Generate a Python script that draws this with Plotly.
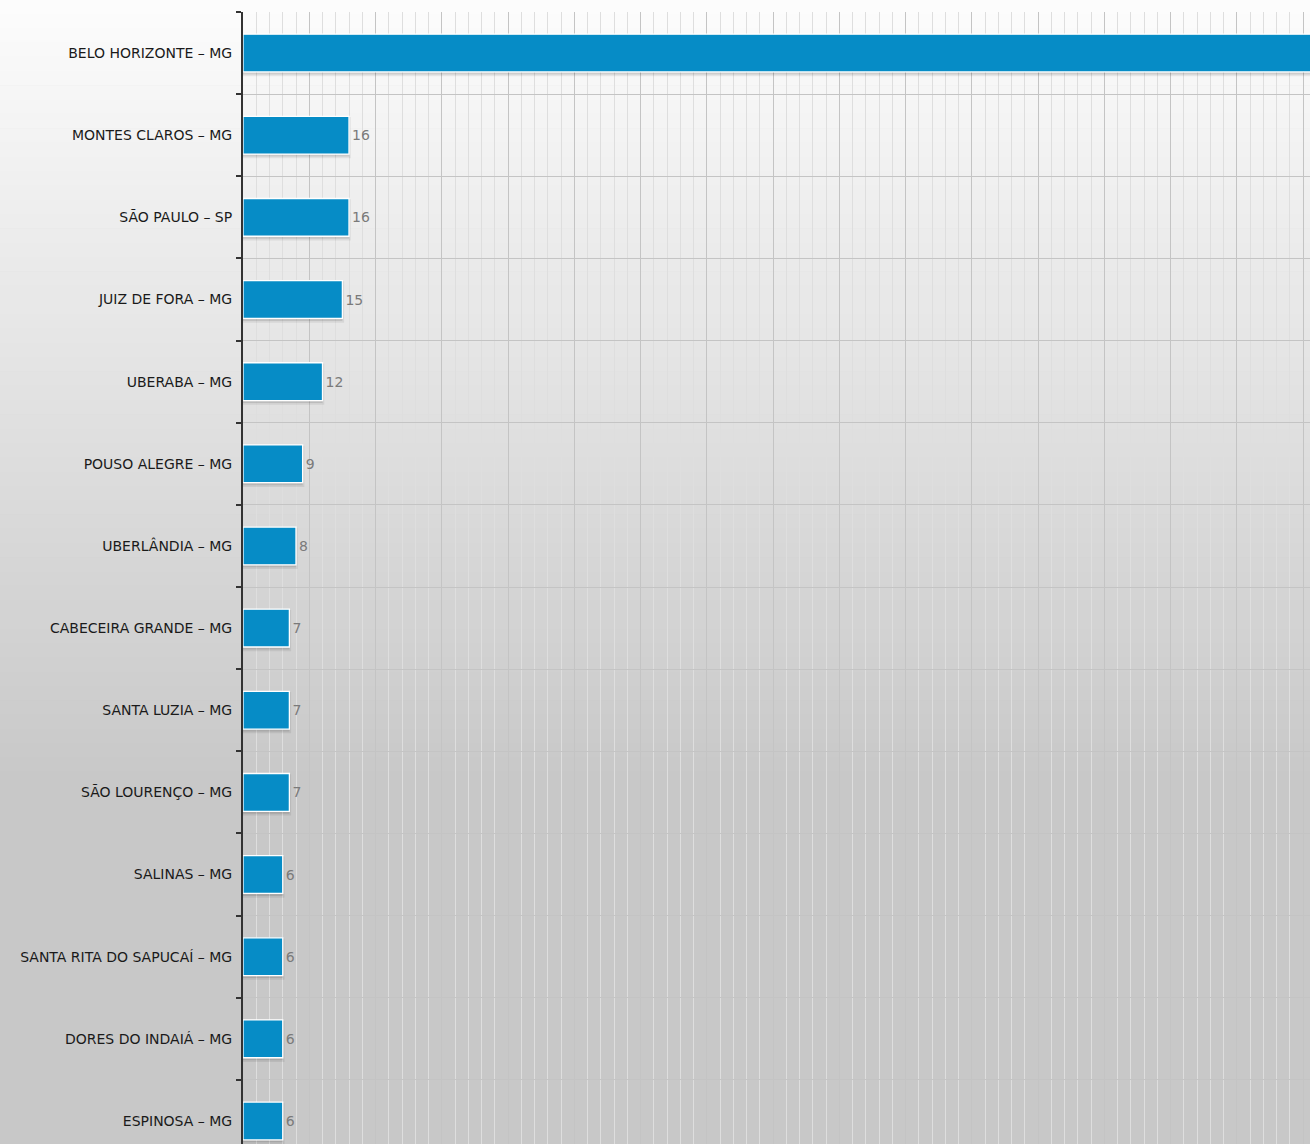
import plotly.graph_objects as go

cities = [
    "BELO HORIZONTE – MG", "MONTES CLAROS – MG", "SÃO PAULO – SP", "JUIZ DE FORA – MG",
    "UBERABA – MG", "POUSO ALEGRE – MG", "UBERLÂNDIA – MG", "CABECEIRA GRANDE – MG",
    "SANTA LUZIA – MG", "SÃO LOURENÇO – MG", "SALINAS – MG", "SANTA RITA DO SAPUCAÍ – MG",
    "DORES DO INDAIÁ – MG", "ESPINOSA – MG",
]
counts = [175, 16, 16, 15, 12, 9, 8, 7, 7, 7, 6, 6, 6, 6]
labels = [str(v) for v in counts]
labels[0] = ""  # label of first bar lies outside the visible area

W, H = 1310, 1144
ML, MT = 243, 12
PW, PH = W - ML, H - MT
BW = 0.46

fig = go.Figure()

# soft drop shadow under bars
fig.add_trace(go.Bar(
    y=cities, x=counts, orientation="h",
    width=BW, offset=-BW / 2 + 0.03,
    marker=dict(color="rgba(0,0,0,0.10)", line=dict(color="rgba(0,0,0,0.07)", width=3.5)),
    hoverinfo="skip", cliponaxis=True,
))

fig.add_trace(go.Bar(
    y=cities, x=counts, orientation="h",
    width=BW,
    marker=dict(color="#068cc6", line=dict(color="#ffffff", width=1.3)),
    text=labels, textposition="outside",
    textfont=dict(family="DejaVu Sans", size=14, color="#7a7a7a"),
    cliponaxis=True,
    hoverinfo="x+y",
))

# gradient background (figure-wide stripes)
shapes = []
n = 80
for i in range(n):
    y0_px = H * i / n
    y1_px = H * (i + 1) / n
    mid = (y0_px + y1_px) / 2
    t = min(mid / 780.0, 1.0)
    c = int(round(252 - (252 - 200) * t))
    shapes.append(dict(
        type="rect", xref="paper", yref="paper", layer="below",
        x0=-ML / PW - 0.01, x1=1.01,
        y0=1 - (y1_px - MT) / PH, y1=1 - (y0_px - MT) / PH + 0.0005,
        fillcolor=f"rgb({c},{c},{c})", line=dict(width=0),
    ))

fig.update_layout(
    width=W, height=H,
    margin=dict(l=ML, r=0, t=MT, b=0, pad=0),
    paper_bgcolor="#c8c8c8",
    plot_bgcolor="rgba(0,0,0,0)",
    showlegend=False,
    shapes=shapes,
    barmode="overlay",
    font=dict(family="DejaVu Sans", size=14, color="#1a1a1a"),
    xaxis=dict(
        range=[0, PW / 6.625],
        dtick=10, tick0=0,
        showgrid=True, gridcolor="#c4c4c4", gridwidth=1.2,
        minor=dict(dtick=2, showgrid=True, gridcolor="#dedede", gridwidth=1),
        showticklabels=False, ticks="",
        zeroline=False, showline=False,
        fixedrange=True,
    ),
    yaxis=dict(
        type="category",
        categoryorder="array", categoryarray=cities,
        range=[13.28, -0.5],
        tickson="boundaries",
        ticks="outside", ticklen=5, tickwidth=1.5, tickcolor="#333333",
        showline=True, linecolor="#333333", linewidth=2,
        showgrid=True, gridcolor="#c4c4c4", gridwidth=1.2,
        tickfont=dict(family="DejaVu Sans", size=14, color="#1a1a1a"),
        ticklabelstandoff=6,
        fixedrange=True,
    ),
)

fig.write_html(
    "out.html",
    config={"displayModeBar": False},
    post_script="document.body.style.margin='0';document.body.style.overflow='hidden';",
)
